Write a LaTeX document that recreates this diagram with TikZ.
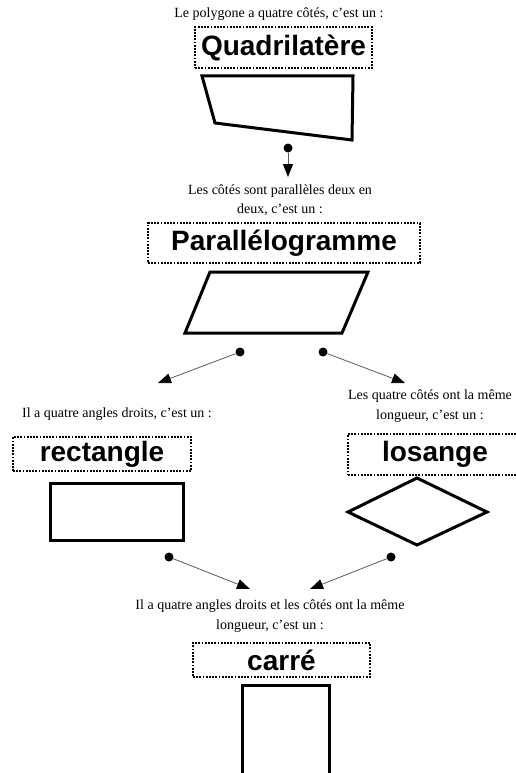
\documentclass[tikz,border=0pt]{standalone}
\usepackage{fontspec}
\setmainfont{Liberation Serif}
\setsansfont{Liberation Sans}
\usetikzlibrary{arrows.meta}

\begin{document}
\begin{tikzpicture}[x=1pt,y=-1pt,
	caption/.style={font=\fontsize{14}{19.5}\selectfont,align=center,inner sep=0pt},
	namebox/.style={draw,dash pattern=on 1.8pt off 1.4pt,line width=1.3pt,inner sep=0pt,font=\sffamily\bfseries\fontsize{28}{30}\selectfont},
	outline/.style={line width=3pt,line join=miter},
	bullet/.style={circle,fill,inner sep=0pt,minimum size=9pt},
	link/.style={draw=black!65,line width=0.8pt,-{Triangle[length=13pt,width=10pt,color=black]}}]
	\useasboundingbox (0,0) rectangle (515,773);
	\node[caption] (t1) at (279,14) {Le polygone a quatre côtés, c'est un :};
	\node[namebox,minimum width=177pt,minimum height=41pt] (quad) at (283.5,47.5) {Quadrilatère};
	\draw[outline] (202,76) -- (353,76) -- (352,140) -- (215,123) -- cycle;
	\node[bullet] (d1) at (288,148) {};
	\coordinate (a1) at (288,177);
	\draw[link] (d1) -- (a1);
	\node[caption] (t2) at (280,200) {Les côtés sont parallèles deux en\\deux, c'est un :};
	\node[namebox,minimum width=272pt,minimum height=40pt] (para) at (284,243) {Parallélogramme};
	\draw[outline] (210,272) -- (368,272) -- (342,333) -- (185,333) -- cycle;
	\node[bullet] (d2) at (240,352) {};
	\node[bullet] (d3) at (323,352) {};
	\coordinate (a2) at (158,383);
	\coordinate (a3) at (405,383);
	\draw[link] (d2) -- (a2);
	\draw[link] (d3) -- (a3);
	\node[caption] (t3) at (117,414) {Il a quatre angles droits, c'est un :};
	\node[namebox,minimum width=178pt,minimum height=34pt] (rect) at (102,454) {rectangle};
	\draw[outline] (50,483) rectangle (183,540);
	\node[caption] (t4) at (430,406) {Les quatre côtés ont la même\\longueur, c'est un :};
	\node[namebox,minimum width=174pt,minimum height=41pt] (los) at (435,454.5) {losange};
	\draw[outline] (348,512) -- (417,478) -- (487,512) -- (417,545) -- cycle;
	\node[bullet] (d4) at (169,557) {};
	\node[bullet] (d5) at (391,557) {};
	\coordinate (a4) at (250,589);
	\coordinate (a5) at (310,589);
	\draw[link] (d4) -- (a4);
	\draw[link] (d5) -- (a5);
	\node[caption] (t5) at (270,616) {Il a quatre angles droits et les côtés ont la même\\longueur, c'est un :};
	\node[namebox,minimum width=177pt,minimum height=34pt] (carre) at (281.5,660) {carré};
	\draw[outline] (242,685) rectangle (329,778);
\end{tikzpicture}
\end{document}
